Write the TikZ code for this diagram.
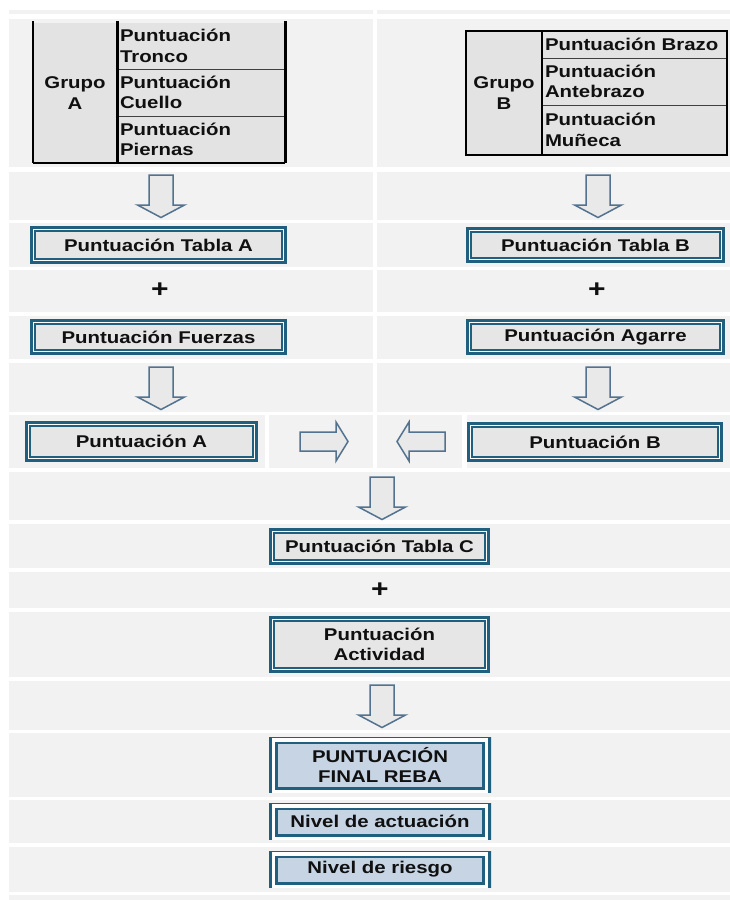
\documentclass[tikz,border=0pt]{standalone}
\usepackage{fontspec}
\newfontfamily\lab[FakeStretch=1.2]{Liberation Sans}
\usetikzlibrary{calc}
\definecolor{band}{HTML}{F2F2F2}
\definecolor{frameblue}{HTML}{215F7E}
\definecolor{boxgray}{HTML}{E6E6E6}
\definecolor{cellgray}{HTML}{E3E3E3}
\definecolor{finblue}{HTML}{C6D4E4}
\definecolor{arrline}{HTML}{52728F}
\definecolor{arrfill}{HTML}{E9E9E9}
\definecolor{ink}{HTML}{101010}
\begin{document}
\begin{tikzpicture}[x=1pt, y=-1pt,
  every node/.style={font=\lab\bfseries\fontsize{17}{20.5}\selectfont, text=ink},
  plus/.style={font=\lab\bfseries\fontsize{25}{25}\selectfont, inner sep=0pt},
  cell/.style={fill=cellgray, inner sep=0pt, align=center},
  lcell/.style={fill=cellgray, inner xsep=3pt, inner ysep=0pt, align=left},
  blk/.style={draw=black, line width=2.6pt},
  thin/.style={draw=black!75, line width=1pt},
  dbl/.style={draw=frameblue, line width=2.6pt, fill=white, inner sep=0pt, align=center,
    path picture={\draw[frameblue, line width=1.3pt, fill=boxgray]
      ([shift={(3.6pt,3.6pt)}]path picture bounding box.south west) rectangle
      ([shift={(-3.6pt,-3.6pt)}]path picture bounding box.north east);}},
  fin/.style={fill=white, inner sep=0pt, align=center,
    path picture={
      \draw[frameblue, line width=2.6pt, fill=finblue]
        ([shift={(7.3pt,4.3pt)}]path picture bounding box.south west) rectangle
        ([shift={(-7.3pt,-6pt)}]path picture bounding box.north east);
      \draw[frameblue, line width=6pt]
        (path picture bounding box.south west) -- (path picture bounding box.north west)
        (path picture bounding box.south east) -- (path picture bounding box.north east);
      \draw[frameblue, line width=2pt]
        (path picture bounding box.north west) -- (path picture bounding box.north east);}},
  arr/.style={draw=arrline, line width=1.5pt, fill=arrfill, line join=miter},
  pics/downarr/.style={code={
    \draw[arr] (-12,0) -- (12,0) -- (12,30) -- (23.5,30) -- (0,42.5)
      -- (-23.5,30) -- (-12,30) -- cycle;}},
  pics/rightarr/.style={code={
    \draw[arr] (0,-9.5) -- (36,-9.5) -- (36,-19.5) -- (48,0) -- (36,19.5)
      -- (36,9.5) -- (0,9.5) -- cycle;}},
  pics/leftarr/.style={code={
    \draw[arr] (0,-9.5) -- (-36,-9.5) -- (-36,-19.5) -- (-48,0) -- (-36,19.5)
      -- (-36,9.5) -- (0,9.5) -- cycle;}}
]
\useasboundingbox (0,0) rectangle (730,900);
\fill[white] (0,0) rectangle (730,900);

% background bands: two columns in the upper part
\foreach \ya/\yb in {10/14, 19/167, 172/220, 223/267, 270/312, 316/359, 363/412} {
  \fill[band] (9,\ya) rectangle (373,\yb);
  \fill[band] (377,\ya) rectangle (730,\yb);
}
% row with the side arrows
\fill[band] (9,415) rectangle (265,468);
\fill[band] (269,415) rectangle (373,468);
\fill[band] (377,415) rectangle (462,468);
\fill[band] (467,415) rectangle (730,468);
% full-width bands in the lower part
\foreach \ya/\yb in {472/520, 524/568, 572/608, 612/677, 681/730, 733/797, 800/843, 847/892, 895/900} {
  \fill[band] (9,\ya) rectangle (730,\yb);
}

% Group A table
\node[cell, minimum width=84pt, minimum height=140pt] (gA) at (75,93) {Grupo\\A};
\node[lcell, minimum width=168pt, minimum height=46pt, text width=162pt] (tronco) at (201,46) {Puntuación\\Tronco};
\node[lcell, minimum width=168pt, minimum height=47pt, text width=162pt] (cuello) at (201,92.5) {Puntuación\\Cuello};
\node[lcell, minimum width=168pt, minimum height=47pt, text width=162pt] (piernas) at (201,139.5) {Puntuación\\Piernas};
\draw[thin] (tronco.south west) -- (tronco.south east);
\draw[thin] (cuello.south west) -- (cuello.south east);
\draw[blk] ($(gA.north west)+(0,2pt)$) -- (gA.south west);
\draw[blk] ($(gA.north east)+(0,2pt)$) -- (gA.south east);
\draw[blk] ($(tronco.north east)+(0,2pt)$) -- (piernas.south east);
\draw[blk, line width=2.2pt] (gA.south west) -- (piernas.south east);

% Group B table
\node[cell, minimum width=76pt, minimum height=124pt] (gB) at (504,93) {Grupo\\B};
\node[lcell, minimum width=185pt, minimum height=27pt, text width=179pt] (brazo) at (634.5,44.5) {Puntuación Brazo};
\node[lcell, minimum width=185pt, minimum height=47pt, text width=179pt] (antebrazo) at (634.5,81.5) {Puntuación\\Antebrazo};
\node[lcell, minimum width=185pt, minimum height=50pt, text width=179pt] (muneca) at (634.5,130) {Puntuación\\Muñeca};
\draw[thin] (brazo.south west) -- (brazo.south east);
\draw[thin] (antebrazo.south west) -- (antebrazo.south east);
\draw[blk, line width=2.2pt] (gB.north west) rectangle (muneca.south east);
\draw[blk, line width=2.2pt] (gB.north east) -- (gB.south east);

% left branch
\pic (a1) at (161,175) {downarr};
\node[dbl, minimum width=254.4pt, minimum height=35.4pt] (tabA) at (158.5,245) {Puntuación Tabla A};
\node[plus] (plA) at (160,290) {+};
\node[dbl, minimum width=254.4pt, minimum height=33.4pt] (fuerzas) at (158.5,337) {Puntuación Fuerzas};
\pic (a2) at (161,367) {downarr};
\node[dbl, minimum width=230.4pt, minimum height=38.4pt] (puntA) at (141.5,441.5) {Puntuación A};

% right branch
\pic (b1) at (598,175) {downarr};
\node[dbl, minimum width=256.4pt, minimum height=33.4pt] (tabB) at (595.5,245) {Puntuación Tabla B};
\node[plus] (plB) at (597,290) {+};
\node[dbl, minimum width=256.4pt, minimum height=33.4pt] (agarre) at (595.5,337) {Puntuación Agarre};
\pic (b2) at (598,367) {downarr};
\node[dbl, minimum width=253.4pt, minimum height=37.4pt] (puntB) at (595,442) {Puntuación B};

% both branches meet
\pic (ar) at (300,441.5) {rightarr};
\pic (al) at (445,441.5) {leftarr};
\pic (c1) at (382,477) {downarr};
\node[dbl, minimum width=218.4pt, minimum height=34.4pt] (tabC) at (379.5,546.5) {Puntuación Tabla C};
\node[plus] (plC) at (380,590) {+};
\node[dbl, minimum width=218.4pt, minimum height=54.4pt] (actividad) at (379.5,644.5) {Puntuación\\Actividad};
\pic (c2) at (382,685) {downarr};
\node[fin, minimum width=222pt, minimum height=56pt] (final) at (380,765) {PUNTUACIÓN\\FINAL REBA};
\node[fin, minimum width=222pt, minimum height=37pt] (actuacion) at (380,821.5) {Nivel de actuación};
\node[fin, minimum width=222pt, minimum height=37pt] (riesgo) at (380,869.5) {Nivel de riesgo};
\end{tikzpicture}
\end{document}
